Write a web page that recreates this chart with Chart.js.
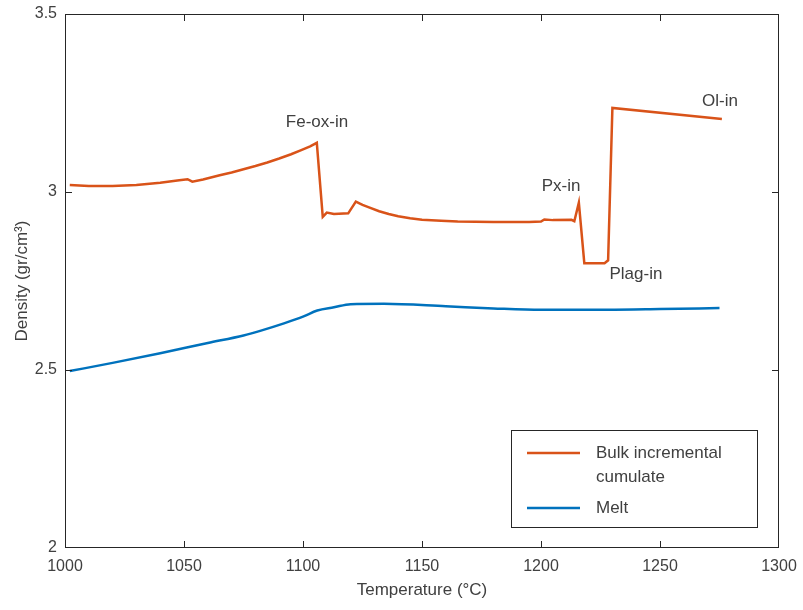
<!DOCTYPE html>
<html>
<head>
<meta charset="utf-8">
<script src="https://cdn.jsdelivr.net/npm/chart.js@4/dist/chart.umd.min.js"></script>
<style>
  html, body { margin: 0; padding: 0; background: #fff; }
  #wrap { width: 803px; height: 610px; }
</style>
</head>
<body>
<div id="wrap"><canvas id="densityChart" width="803" height="610"></canvas></div>
<script>
// Temperature (°C) and density (gr/cm³)
const bulkTemp = [1002, 1010, 1020, 1030, 1040, 1048, 1051.5, 1053.5, 1058, 1065, 1070, 1075, 1080, 1085, 1090, 1095,
    1099, 1103, 1105.8,
    1108.3, 1110, 1113, 1119, 1122.2, 1125, 1128, 1132, 1136, 1140, 1145, 1150, 1158, 1165, 1180, 1195, 1200,
    1201.4, 1205, 1212.8, 1214, 1215.9, 1218.2, 1222, 1226.7, 1228.2, 1230, 1276];
const bulkDensity = [3.020, 3.017, 3.017, 3.020, 3.026, 3.033, 3.036, 3.029, 3.035, 3.047, 3.055, 3.064, 3.073, 3.083, 3.094, 3.106,
    3.117, 3.128, 3.138,
    2.930, 2.942, 2.938, 2.940, 2.973, 2.964, 2.956, 2.946, 2.938, 2.932, 2.926, 2.922, 2.919, 2.917, 2.916, 2.916, 2.917,
    2.923, 2.921, 2.922, 2.918, 2.970, 2.800, 2.800, 2.800, 2.808, 3.236, 3.205];

const meltTemp = [1002, 1020, 1040, 1060, 1075, 1082, 1092, 1100, 1106, 1113, 1120, 1134, 1160, 1180, 1200, 1228, 1250, 1275];
const meltDensity = [2.497, 2.520, 2.547, 2.576, 2.597, 2.610, 2.631, 2.650, 2.667, 2.676, 2.685, 2.686, 2.679, 2.673, 2.669, 2.669, 2.671, 2.674];

const xTicks = [1000, 1050, 1100, 1150, 1200, 1250, 1300];
const yTicks = [2, 2.5, 3, 3.5];

// phase-in annotations (text, temperature, density)
const phaseLabels = ['Fe-ox-in', 'Px-in', 'Plag-in', 'Ol-in'];
const phaseTemp = [1105.9, 1208.4, 1239.9, 1275.2];
const phaseDensity = [3.197, 3.017, 2.770, 3.256];

const seriesNames = [['Bulk incremental', 'cumulate'], ['Melt']];
const seriesColors = ['#D95319', '#0072BD'];

const FONT = '"Liberation Sans", Arial, Helvetica, sans-serif';
const TEXT = '#404040';
const AXIS = '#262626';

function toPoints(xs, ys) {
    return xs.map((x, i) => ({ x: x, y: ys[i] }));
}

// box, inward ticks, annotations and legend in MATLAB style
const matlabFrame = {
    id: 'matlabFrame',
    afterDatasetsDraw(chart) {
        const ctx = chart.ctx;
        const area = chart.chartArea;
        const xs = chart.scales.x;
        const ys = chart.scales.y;
        ctx.save();

        ctx.strokeStyle = AXIS;
        ctx.lineWidth = 1;
        ctx.strokeRect(area.left + 0.5, area.top + 0.5, area.right - area.left - 1, area.bottom - area.top - 1);

        ctx.beginPath();
        xTicks.forEach(v => {
            const px = Math.min(Math.round(xs.getPixelForValue(v)), area.right - 1) + 0.5;
            ctx.moveTo(px, area.bottom); ctx.lineTo(px, area.bottom - 7);
            ctx.moveTo(px, area.top); ctx.lineTo(px, area.top + 7);
        });
        yTicks.forEach(v => {
            const py = Math.min(Math.round(ys.getPixelForValue(v)), area.bottom - 1) + 0.5;
            ctx.moveTo(area.left, py); ctx.lineTo(area.left + 7, py);
            ctx.moveTo(area.right, py); ctx.lineTo(area.right - 7, py);
        });
        ctx.stroke();

        ctx.fillStyle = TEXT;
        ctx.font = '17px ' + FONT;
        ctx.textAlign = 'center';
        ctx.textBaseline = 'middle';
        phaseLabels.forEach((t, i) => {
            ctx.fillText(t, xs.getPixelForValue(phaseTemp[i]), ys.getPixelForValue(phaseDensity[i]));
        });

        // legend
        const lx = 511, ly = 430, lw = 246, lh = 97;
        ctx.fillStyle = '#fff';
        ctx.fillRect(lx, ly, lw, lh);
        ctx.strokeStyle = AXIS;
        ctx.strokeRect(lx + 0.5, ly + 0.5, lw, lh);
        ctx.textAlign = 'left';
        ctx.font = '17px ' + FONT;
        const rows = [[453, 477], [508]];
        seriesNames.forEach((lines, i) => {
            ctx.strokeStyle = seriesColors[i];
            ctx.lineWidth = 2.5;
            ctx.beginPath();
            ctx.moveTo(527, rows[i][0]);
            ctx.lineTo(580, rows[i][0]);
            ctx.stroke();
            ctx.fillStyle = TEXT;
            lines.forEach((t, j) => ctx.fillText(t, 596, rows[i][j]));
        });
        ctx.restore();
    }
};

const chart = new Chart(document.getElementById('densityChart').getContext('2d'), {
    type: 'scatter',
    data: {
        datasets: [{
            label: 'Bulk incremental cumulate',
            data: toPoints(bulkTemp, bulkDensity),
            showLine: true,
            borderColor: seriesColors[0],
            borderWidth: 2.5,
            pointRadius: 0,
            tension: 0
        }, {
            label: 'Melt',
            data: toPoints(meltTemp, meltDensity),
            showLine: true,
            borderColor: seriesColors[1],
            borderWidth: 2.5,
            pointRadius: 0,
            cubicInterpolationMode: 'monotone'
        }]
    },
    options: {
        responsive: false,
        animation: false,
        layout: { padding: { top: 14, right: 24, left: 0, bottom: 9 } },
        plugins: { legend: { display: false }, tooltip: { enabled: false } },
        scales: {
            x: {
                type: 'linear',
                min: 1000,
                max: 1300,
                afterBuildTicks: axis => { axis.ticks = xTicks.map(v => ({ value: v })); },
                afterFit: axis => { axis.height = 53; axis.paddingLeft = 0; axis.paddingRight = 0; },
                grid: { display: false, drawTicks: false },
                border: { display: false },
                ticks: { color: TEXT, font: { family: FONT, size: 16 }, padding: 9, maxRotation: 0,
                    callback: v => String(v) },
                title: { display: true, text: 'Temperature (°C)', color: TEXT, font: { family: FONT, size: 17 }, padding: { top: 0, bottom: 0 } }
            },
            y: {
                min: 2,
                max: 3.5,
                afterBuildTicks: axis => { axis.ticks = yTicks.map(v => ({ value: v })); },
                afterFit: axis => { axis.width = 65; axis.paddingTop = 0; axis.paddingBottom = 0; },
                grid: { display: false, drawTicks: false },
                border: { display: false },
                ticks: { color: TEXT, font: { family: FONT, size: 16 }, padding: 8,
                    callback: v => String(v) },
                title: { display: true, text: 'Density (gr/cm³)', color: TEXT, font: { family: FONT, size: 17 }, padding: { top: 12, bottom: 0 } }
            }
        }
    },
    plugins: [matlabFrame]
});
</script>
</body>
</html>
